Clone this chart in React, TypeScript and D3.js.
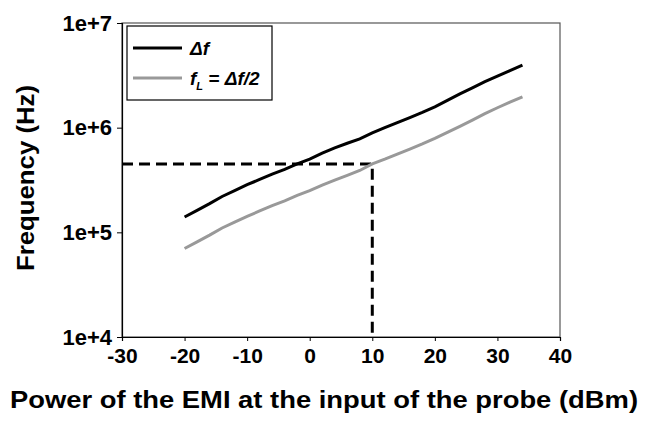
import { useEffect, useRef } from 'react';
import * as d3 from 'd3';

// power of the EMI (dBm)
const power = [-20, -18, -16, -14, -12, -10, -8, -6, -4, -2, 0, 2, 4, 6, 8, 10, 12, 14, 16, 18, 20, 22, 24, 26, 28, 30, 32, 34];

// delta f (Hz)
const deltaF = [
  1.40e5, 1.62e5, 1.88e5, 2.20e5, 2.50e5, 2.85e5, 3.20e5, 3.60e5, 4.00e5, 4.50e5,
  5.00e5, 5.70e5, 6.40e5, 7.10e5, 7.80e5, 8.90e5, 1.00e6, 1.12e6, 1.25e6, 1.40e6,
  1.58e6, 1.82e6, 2.10e6, 2.40e6, 2.75e6, 3.10e6, 3.50e6, 3.95e6,
];

// f_L = delta f / 2 (Hz)
const fL = [
  7.0e4, 8.1e4, 9.4e4, 1.10e5, 1.25e5, 1.42e5, 1.60e5, 1.80e5, 2.00e5, 2.25e5,
  2.50e5, 2.82e5, 3.15e5, 3.50e5, 3.90e5, 4.50e5, 5.00e5, 5.60e5, 6.25e5, 7.00e5,
  7.90e5, 9.00e5, 1.03e6, 1.18e6, 1.36e6, 1.55e6, 1.75e6, 1.97e6,
];

// dashed marker: power 10 dBm -> f_L
const markerPower = 10;
const markerFreq = 4.5e5;

const xTicks = [-30, -20, -10, 0, 10, 20, 30, 40];
const yTicks = [1e4, 1e5, 1e6, 1e7];
const yTickLabels = ['1e+4', '1e+5', '1e+6', '1e+7'];

const FONT = '"Liberation Sans", Arial, sans-serif';

function App() {
  const svgRef = useRef<SVGSVGElement | null>(null);

  useEffect(() => {
    if (!svgRef.current) return;
    const svg = d3.select(svgRef.current);
    svg.selectAll('*').remove();

    const width = 654;
    const height = 421;
    const margin = { top: 23, right: 94, bottom: 84, left: 122 };

    const x = d3.scaleLinear()
      .domain([-30, 40])
      .range([margin.left, width - margin.right]);

    const y = d3.scaleLog()
      .domain([1e4, 1e7])
      .range([height - margin.bottom, margin.top]);

    // plot frame
    svg.append('rect')
      .attr('x', margin.left)
      .attr('y', margin.top)
      .attr('width', width - margin.left - margin.right)
      .attr('height', height - margin.top - margin.bottom)
      .attr('fill', 'none')
      .attr('stroke', '#555')
      .attr('stroke-width', 1.2);

    // axes
    const xAxis = d3.axisBottom(x).tickValues(xTicks).tickSize(4).tickPadding(7)
      .tickFormat(d => String(d));
    const gx = svg.append('g')
      .attr('transform', `translate(0,${height - margin.bottom})`)
      .call(xAxis);
    gx.select('.domain').attr('stroke', '#000').attr('stroke-width', 1.2);
    gx.selectAll('text')
      .attr('font-family', FONT)
      .attr('font-weight', 'bold')
      .attr('font-size', 21)
      .attr('fill', '#000');

    const yAxis = d3.axisLeft(y).tickValues(yTicks).tickSize(5).tickPadding(5)
      .tickFormat((d, i) => yTickLabels[i]);
    const gy = svg.append('g')
      .attr('transform', `translate(${margin.left},0)`)
      .call(yAxis);
    gy.select('.domain').attr('stroke', '#000').attr('stroke-width', 1.2);
    gy.selectAll('text')
      .attr('font-family', FONT)
      .attr('font-weight', 'bold')
      .attr('font-size', 22)
      .attr('fill', '#000');

    // dashed marker
    svg.append('path')
      .attr('d', d3.line()([
        [x(-30), y(markerFreq)],
        [x(markerPower), y(markerFreq)],
        [x(markerPower), y(1e4)],
      ]))
      .attr('fill', 'none')
      .attr('stroke', '#000')
      .attr('stroke-width', 3)
      .attr('stroke-dasharray', '11,6');

    const line = d3.line<number>()
      .x((_, i) => x(power[i]))
      .y(d => y(d));

    svg.append('path')
      .datum(fL)
      .attr('d', line)
      .attr('fill', 'none')
      .attr('stroke', '#999')
      .attr('stroke-width', 3);

    svg.append('path')
      .datum(deltaF)
      .attr('d', line)
      .attr('fill', 'none')
      .attr('stroke', '#000')
      .attr('stroke-width', 3);

    // legend
    const lg = svg.append('g');
    lg.append('rect')
      .attr('x', 127)
      .attr('y', 26)
      .attr('width', 145)
      .attr('height', 74)
      .attr('fill', '#fff')
      .attr('stroke', '#000')
      .attr('stroke-width', 1.2);
    lg.append('line')
      .attr('x1', 133).attr('x2', 182).attr('y1', 48).attr('y2', 48)
      .attr('stroke', '#000').attr('stroke-width', 3);
    lg.append('line')
      .attr('x1', 133).attr('x2', 182).attr('y1', 78).attr('y2', 78)
      .attr('stroke', '#999').attr('stroke-width', 3);
    lg.append('text')
      .attr('x', 190).attr('y', 55)
      .attr('font-family', FONT).attr('font-weight', 'bold').attr('font-style', 'italic')
      .attr('font-size', 19)
      .text('Δf');
    const t2 = lg.append('text')
      .attr('x', 190).attr('y', 85)
      .attr('font-family', FONT).attr('font-weight', 'bold').attr('font-style', 'italic')
      .attr('font-size', 19);
    t2.append('tspan').text('f');
    t2.append('tspan').attr('font-size', 11).attr('dy', 5).text('L');
    t2.append('tspan').attr('dy', -5).text(' = Δf/2');

    // axis titles
    svg.append('text')
      .attr('x', 324)
      .attr('y', 408)
      .attr('text-anchor', 'middle')
      .attr('font-family', FONT)
      .attr('font-weight', 'bold')
      .attr('font-size', 24)
      .attr('textLength', 628)
      .attr('lengthAdjust', 'spacingAndGlyphs')
      .text('Power of the EMI at the input of the probe (dBm)');

    svg.append('text')
      .attr('transform', `translate(34,178) rotate(-90)`)
      .attr('text-anchor', 'middle')
      .attr('font-family', FONT)
      .attr('font-weight', 'bold')
      .attr('font-size', 24)
      .attr('textLength', 186)
      .attr('lengthAdjust', 'spacingAndGlyphs')
      .text('Frequency (Hz)');
  }, []);

  return (
    <svg
      ref={svgRef}
      width={654}
      height={421}
      style={{ position: 'absolute', left: 0, top: 0, background: '#fff' }}
    />
  );
}

export default App;
